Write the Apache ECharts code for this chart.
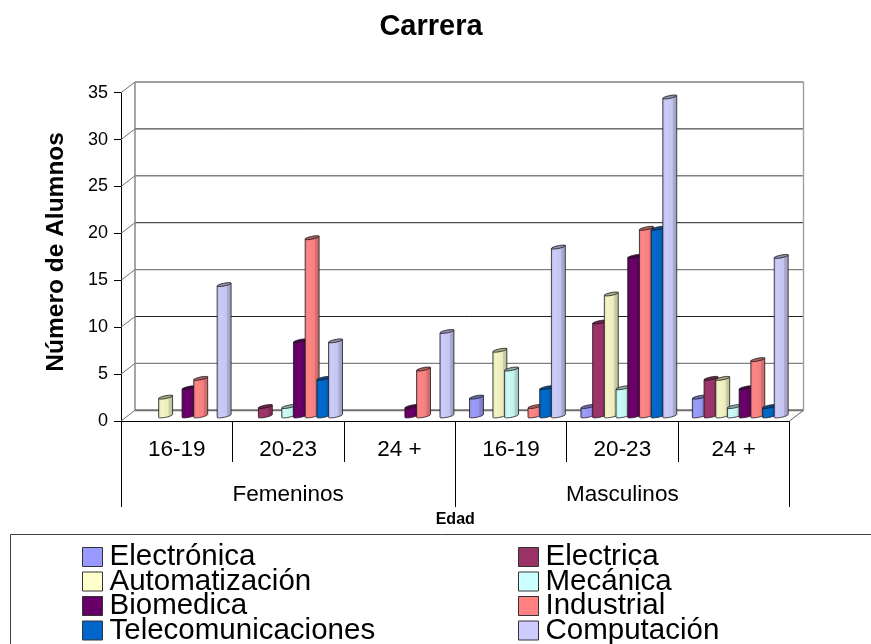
<!DOCTYPE html>
<html><head><meta charset="utf-8">
<style>html,body{margin:0;padding:0;background:#fff}#c{width:871px;height:644px}</style>
<script src="https://cdn.jsdelivr.net/npm/echarts@6/dist/echarts.min.js"></script>
</head><body><div id="c"></div>
<script>
const ageLabels = ['16-19','20-23','24 +','16-19','20-23','24 +'];
const genderLabels = ['Femeninos','Masculinos'];
const yTicks = [0,5,10,15,20,25,30,35];
const electronica = [0,0,0,2,1,2];
const electrica = [0,1,0,0,10,4];
const automatizacion = [2,0,0,7,13,4];
const mecanica = [0,1,0,5,3,1];
const biomedica = [3,8,1,0,17,3];
const industrial = [4,19,5,1,20,6];
const telecomunicaciones = [0,4,0,3,20,1];
const computacion = [14,8,9,18,34,17];
const seriesNames = ['Electrónica','Electrica','Automatización','Mecánica','Biomedica','Industrial','Telecomunicaciones','Computación'];
const seriesValues = [electronica,electrica,automatizacion,mecanica,biomedica,industrial,telecomunicaciones,computacion];
const seriesColors = ['#9999FF','#993366','#FFFFCC','#CCFFFF','#660066','#FF8080','#0066CC','#CCCCFF'];
const bodyColors = ['#9696F0','#993366','#EBEBBE','#C4F2EE','#660066','#F58080','#0066C4','#C4C4F0'];

const FONT = 'Liberation Sans, Arial, sans-serif';
const DX = 14, DY = -10.7;

function shade(hex, k){
  const n = parseInt(hex.slice(1),16);
  const c = [n>>16&255,n>>8&255,n&255].map(v=>Math.round(Math.min(255,v*k)));
  return 'rgb('+c.join(',')+')';
}
function ellipse(cx,cy,ux,uy,vx,vy,t0,t1,n){
  const p=[];
  for(let i=0;i<=n;i++){
    const t=t0+(t1-t0)*i/n;
    p.push([cx+Math.cos(t)*ux+Math.sin(t)*vx, cy+Math.cos(t)*uy+Math.sin(t)*vy]);
  }
  return p;
}
function cylinder(seriesIndex){
  return function(params, api){
    const cat = api.value(0), val = api.value(1);
    if(!val) return null;
    const band = api.size([1,0])[0];
    const c = api.coord([cat,val]);
    const b = api.coord([cat,0]);
    const w = band*0.125, h = 3;
    const x = c[0] + band*(seriesIndex*0.105-0.372);
    const yt = c[1]-3.6, yb = b[1]-3.6;
    const ux=w/2, uy=-h/2, vx=0.6, vy=1.3;
    const arc = ellipse(x+w/2,yb-h/2,ux,uy,vx,vy,Math.PI,0,14);
    const pts = [[x,yt]].concat(arc).concat([[x+w,yt-h]]);
    const col = bodyColors[seriesIndex];
    const grad = new echarts.graphic.LinearGradient(0,0,1,0,[
      {offset:0,color:shade(col,0.92)},
      {offset:0.2,color:shade(col,1.04)},
      {offset:0.68,color:col},
      {offset:0.72,color:shade(col,0.88)},
      {offset:1,color:shade(col,0.8)}
    ]);
    return {type:'group',children:[
      {type:'polygon',shape:{points:pts},style:{fill:grad,stroke:'#1a1a1a',lineWidth:0.8}},
      {type:'polygon',shape:{points:ellipse(x+w/2,yt-h/2,ux,uy,vx,vy,0,Math.PI*2,24)},
        style:{fill:shade(col,0.72),stroke:'#1a1a1a',lineWidth:0.8}}
    ]};
  };
}
function wallLine(params, api){
  const v = api.value(0);
  const f0 = api.coord([0,v]);
  const band = api.size([1,0])[0];
  const left = f0[0]-band/2, right = left+band*6;
  const y = f0[1];
  const dark = v===10||v===20||v===30;
  const col = v===0 ? '#707070' : (dark ? '#202020' : '#808080');
  const lw = v===0 ? 2 : (dark?1:1.4);
  const kids = [
    {type:'line',shape:{x1:left+DX,y1:y+DY,x2:right+DX,y2:y+DY},style:{stroke:col,lineWidth:lw}},
    {type:'line',shape:{x1:left,y1:y,x2:left+DX,y2:y+DY},style:{stroke:'#707070',lineWidth:1}}
  ];
  if(v===0) kids.push(
    {type:'line',shape:{x1:right,y1:y,x2:right+DX,y2:y+DY},style:{stroke:'#606060',lineWidth:1}}
  );
  if(v===35) {
    const z = api.coord([0,0]);
    kids.push(
      {type:'line',shape:{x1:left+DX,y1:y+DY,x2:left+DX,y2:z[1]+DY},style:{stroke:'#808080',lineWidth:1.4}},
      {type:'line',shape:{x1:right+DX,y1:y+DY,x2:right+DX,y2:z[1]+DY},style:{stroke:'#a0a0a0',lineWidth:1.4}}
    );
  }
  return {type:'group',children:kids};
}
const series = [{
  type:'custom',name:'muro',silent:true,renderItem:wallLine,clip:false,z:1,
  encode:{y:0},data:yTicks.map(v=>[v]),xAxisIndex:0,yAxisIndex:0
}].concat(seriesNames.map((name,i)=>({
  type:'custom',name,renderItem:cylinder(i),clip:false,z:2+i,
  itemStyle:{color:seriesColors[i]},
  encode:{x:0,y:1},
  data:seriesValues[i].map((v,k)=>[k,v]),xAxisIndex:0,yAxisIndex:0
})));
const legends = seriesNames.map((n,i)=>({
  orient:'horizontal',itemWidth:20,itemHeight:19,icon:'rect',selectedMode:false,
  itemStyle:{borderColor:'#333',borderWidth:1},
  textStyle:{fontFamily:FONT,fontSize:29.5,color:'#000',padding:[0,0,0,2]},
  padding:0,left:i%2?518:82,top:542+Math.floor(i/2)*24.5,data:[n]
}));
const chart = echarts.init(document.getElementById('c'),null,{renderer:'canvas'});
chart.setOption({
  animation:false,backgroundColor:'#fff',
  title:{text:'Carrera',left:426,top:7,textAlign:'center',textStyle:{fontFamily:FONT,fontSize:29,fontWeight:'bold',color:'#000'}},
  grid:{left:121,top:92.7,width:668.5,height:328.3},
  xAxis:[
    {type:'category',data:ageLabels,position:'bottom',boundaryGap:true,
     axisLine:{show:true,lineStyle:{color:'#000',width:1}},
     axisTick:{show:true,length:41,lineStyle:{color:'#000'},alignWithLabel:false,interval:0},
     axisLabel:{fontFamily:FONT,fontSize:22.5,color:'#000',margin:17,interval:0},
     name:'Edad',nameLocation:'middle',nameGap:91,nameTextStyle:{fontFamily:FONT,fontSize:16,fontWeight:'bold',color:'#000'}},
    {type:'category',data:genderLabels,position:'bottom',boundaryGap:true,
     axisLine:{show:false},
     axisTick:{show:true,length:86,lineStyle:{color:'#000'},interval:0},
     axisLabel:{fontFamily:FONT,fontSize:22.5,color:'#000',margin:62,interval:0}}
  ],
  yAxis:{type:'value',min:0,max:35,interval:5,
    axisLine:{show:true,lineStyle:{color:'#000'}},
    axisTick:{show:true,length:7,lineStyle:{color:'#000'}},
    splitLine:{show:false},
    axisLabel:{fontFamily:FONT,fontSize:18,color:'#000',margin:13},
    name:'Número de Alumnos',nameLocation:'middle',nameGap:52,nameRotate:90,
    nameTextStyle:{fontFamily:FONT,fontSize:24.5,fontWeight:'bold',color:'#000',padding:[0,0,0,10]}},
  legend:legends,
  graphic:[{type:'rect',left:10,top:534,z:0,shape:{width:900,height:140},style:{fill:'#fff',stroke:'#404040',lineWidth:1}}],
  series
});
</script></body></html>
